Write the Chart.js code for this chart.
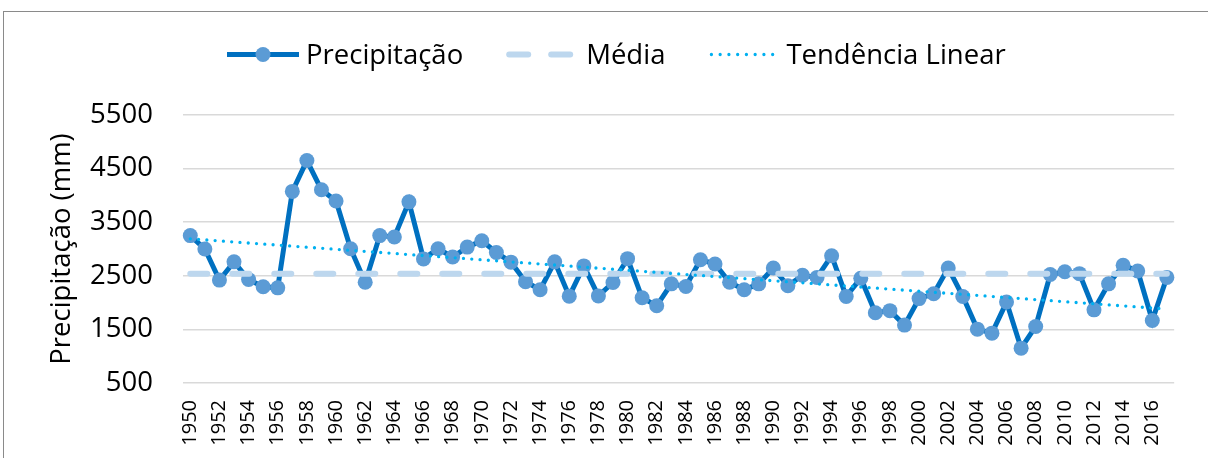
<!DOCTYPE html>
<html>
<head>
<meta charset="utf-8">
<script src="https://cdn.jsdelivr.net/npm/chart.js@4"></script>
<style>
  html, body { margin: 0; padding: 0; background: #fff; }
  #wrap { position: relative; width: 1208px; height: 458px; overflow: hidden; }
  #frame { position: absolute; left: 3px; top: 11px; width: 1230px; height: 470px; border: 1px solid #8a8a8a; }
  canvas { position: absolute; left: 0; top: 0; }
</style>
</head>
<body>
<div id="wrap">
  <div id="frame"></div>
  <canvas id="chart" width="1208" height="458"></canvas>
</div>
<script>
const years = [
  '1950','1951','1952','1953','1954','1955','1956','1957','1958','1959',
  '1960','1961','1962','1963','1964','1965','1966','1967','1968','1969',
  '1970','1971','1972','1973','1974','1975','1976','1977','1978','1979',
  '1980','1981','1982','1983','1984','1985','1986','1987','1988','1989',
  '1990','1991','1992','1993','1994','1995','1996','1997','1998','1999',
  '2000','2001','2002','2003','2004','2005','2006','2007','2008','2009',
  '2010','2011','2012','2013','2014','2015','2016','2017'
]

// precipitation in mm
const precipitacao = [
  3250, 3000, 2420, 2760, 2430, 2295, 2275, 4075, 4650, 4105,
  3895, 3005, 2380, 3250, 3225, 3880, 2815, 3005, 2850, 3035,
  3155, 2935, 2755, 2390, 2240, 2760, 2120, 2685, 2125, 2375,
  2820, 2090, 1940, 2350, 2300, 2800, 2720, 2380, 2240, 2350,
  2645, 2315, 2510, 2470, 2875, 2115, 2455, 1810, 1850, 1580,
  2075, 2165, 2645, 2115, 1505, 1430, 2010, 1150, 1555, 2525,
  2575, 2540, 1865, 2350, 2695, 2590, 1665, 2470
]

const media = 2540
const tendenciaInicio = 3190
const tendenciaFim = 1880

const yTicks = [500, 1500, 2500, 3500, 4500, 5500]

const FONT = '"Open Sans", sans-serif'

// legend drawn by hand so it sits exactly like the original
const legendPlugin = {
  id: 'manualLegend',
  afterDraw(chart) {
    const ctx = chart.ctx
    ctx.save()
    ctx.font = '27.5px ' + FONT
    ctx.fillStyle = '#000'
    ctx.textBaseline = 'alphabetic'
    let x = 227
    const y = 54.5

    // Precipitação
    ctx.strokeStyle = '#0070C0'
    ctx.lineWidth = 5
    ctx.lineCap = 'butt'
    ctx.beginPath(); ctx.moveTo(x, y); ctx.lineTo(x + 72, y); ctx.stroke()
    ctx.fillStyle = '#5B9BD5'
    ctx.beginPath(); ctx.arc(x + 36, y, 7.5, 0, Math.PI * 2); ctx.fill()
    ctx.fillStyle = '#000'
    x += 79
    ctx.fillText('Precipitação', x, 63.5)
    x += ctx.measureText('Precipitação').width + 43

    // Média
    ctx.strokeStyle = '#BDD7EE'
    ctx.lineWidth = 6
    ctx.lineCap = 'round'
    ctx.beginPath(); ctx.moveTo(x + 3, y); ctx.lineTo(x + 22, y); ctx.stroke()
    ctx.beginPath(); ctx.moveTo(x + 45, y); ctx.lineTo(x + 64, y); ctx.stroke()
    x += 80
    ctx.fillText('Média', x, 63.5)
    x += ctx.measureText('Média').width + 45

    // Tendência Linear
    ctx.strokeStyle = '#00B0F0'
    ctx.lineWidth = 3.3
    ctx.setLineDash([0, 8.75])
    ctx.beginPath(); ctx.moveTo(x + 1, y); ctx.lineTo(x + 71, y); ctx.stroke()
    ctx.setLineDash([])
    x += 76
    ctx.fillText('Tendência Linear', x, 63.5)
    ctx.restore()
  }
}

const ctx = document.getElementById('chart')
new Chart(ctx, {
  type: 'line',
  data: {
    labels: years,
    datasets: [
      {
        label: 'Precipitação',
        data: precipitacao,
        borderColor: '#0070C0',
        borderWidth: 5,
        pointRadius: 7.5,
        pointBackgroundColor: '#5B9BD5',
        pointBorderColor: '#5B9BD5',
        pointBorderWidth: 0,
        tension: 0,
        order: 3
      },
      {
        label: 'Média',
        data: [{ x: years[0], y: media }, { x: years[years.length - 1], y: media }],
        borderColor: '#BDD7EE',
        borderWidth: 6,
        borderDash: [17, 25],
        borderCapStyle: 'round',
        pointRadius: 0,
        order: 2
      },
      {
        label: 'Tendência Linear',
        data: [{ x: years[0], y: tendenciaInicio }, { x: years[years.length - 1], y: tendenciaFim }],
        borderColor: '#00B0F0',
        borderWidth: 3.3,
        borderDash: [0, 8.3],
        borderCapStyle: 'round',
        pointRadius: 0,
        order: 1
      }
    ]
  },
  options: {
    responsive: false,
    animation: false,
    layout: { padding: { top: 115, right: 18, bottom: 0, left: 0 } },
    plugins: {
      legend: { display: false },
      tooltip: { enabled: false }
    },
    scales: {
      x: {
        offset: true,
        grid: { display: false, drawTicks: false },
        border: { display: false },
        ticks: {
          autoSkip: false,
          minRotation: 90,
          maxRotation: 90,
          padding: 17,
          color: '#000',
          font: { family: FONT, size: 20 },
          callback: function (val, i) { return i % 2 === 0 ? years[i] : '' }
        },
        afterFit: function (scale) { scale.height = 75 }
      },
      y: {
        min: yTicks[0],
        max: yTicks[yTicks.length - 1],
        grid: { color: '#D9D9D9', lineWidth: 1.5, drawTicks: false },
        border: { display: false },
        afterBuildTicks: function (scale) { scale.ticks = yTicks.map(v => ({ value: v })) },
        ticks: {
          padding: 30,
          color: '#000',
          font: { family: FONT, size: 27.5 },
          callback: function (v) { return String(v) }
        },
        title: {
          display: true,
          text: 'Precipitação (mm)',
          color: '#000',
          font: { family: FONT, size: 27.5 },
          padding: { top: 46, bottom: 0 }
        },
        afterFit: function (scale) { scale.width = 183 }
      }
    }
  },
  plugins: [legendPlugin]
})
</script>
</body>
</html>
